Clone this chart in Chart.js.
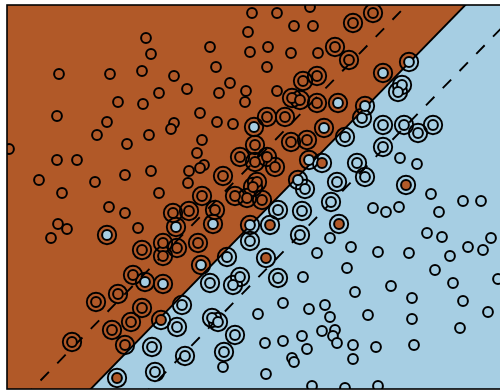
<!DOCTYPE html>
<html>
<head>
<meta charset="utf-8">
<script src="https://cdn.jsdelivr.net/npm/chart.js@4.4.1/dist/chart.umd.min.js"></script>
<style>
  html, body { margin: 0; padding: 0; background: #fff; overflow: hidden; }
  #wrap { width: 500px; height: 390px; overflow: hidden; }
  #wrap canvas { display: block; }
</style>
</head>
<body>
<div id="wrap"><canvas id="chart" width="512" height="390"></canvas></div>
<script>
// Two-class sample with a linear SVM: decision boundary, margins and support vectors.

// class 1 (brown), ordinary samples
const brownPoints = [
  [14.6,35.1],[15.1,33.5],[5.9,31.5],[11.0,31.5],[14.2,31.8],[17.4,31.3],[18.7,30.0],[15.9,29.6],
  [11.8,28.7],[14.3,28.5],[21.0,34.2],[21.6,32.2],[23.0,30.6],[21.9,29.6],[24.6,29.8],[24.5,28.7],
  [24.8,35.7],[25.2,37.6],[5.7,27.3],[10.7,26.7],[9.7,25.4],[12.7,24.5],[14.9,25.4],[17.4,26.6],
  [17.1,26.0],[20.0,27.6],[21.7,26.7],[23.3,26.5],[20.2,24.9],[19.7,23.6],[20.4,22.4],[20.0,22.1],
  [18.9,21.8],[18.8,20.6],[0.9,24.0],[5.7,22.9],[7.7,22.9],[3.9,20.9],[9.5,20.7],[12.5,21.4],
  [15.1,21.8],[6.2,19.6],[15.9,19.6],[25.0,33.7],[27.7,37.6],[31.0,38.2],[29.4,36.3],[31.3,36.3],
  [26.8,34.2],[29.1,33.6],[31.8,33.6],[26.7,32.2],[27.7,29.8],[10.9,18.2],[12.5,17.6],[5.8,16.5],
  [6.7,16.0],[5.1,15.1],[13.8,16.1]
];

// class 0 (light blue), ordinary samples
const bluePoints = [
  [40.0,23.1],[41.7,22.5],[33.0,15.1],[31.7,13.6],[35.1,14.2],[34.7,12.1],[30.3,11.2],[37.3,18.1],
  [38.6,17.7],[39.9,18.2],[43.9,17.7],[46.3,18.8],[48.1,18.8],[43.1,19.5],[37.8,13.7],[40.9,13.6],
  [42.7,15.6],[44.2,15.2],[45.0,13.3],[46.8,14.2],[48.3,13.9],[49.1,15.1],[49.8,11.0],[43.5,11.9],
  [45.3,10.6],[39.1,10.3],[41.2,9.1],[35.5,9.7],[46.3,8.8],[48.8,7.7],[46.0,6.1],[41.2,7.0],
  [36.8,7.4],[32.5,8.4],[33.0,7.2],[30.9,8.0],[28.3,8.6],[25.8,7.5],[32.2,5.8],[33.5,5.9],
  [33.3,5.3],[33.7,4.6],[30.2,5.3],[30.7,4.0],[28.3,4.8],[26.5,4.6],[29.2,3.1],[29.4,2.7],
  [35.3,4.4],[37.6,4.2],[41.4,4.4],[35.3,3.0],[26.6,1.5],[31.2,0.3],[34.5,0.1],[37.8,0.3],
  [22.3,2.2]
];

// support vectors of class 1
const brownSupport = [
  [37.3,37.6],[35.3,36.6],[33.5,34.2],[34.9,32.9],[31.7,31.3],[30.3,30.8],[29.2,29.1],[30.0,28.9],
  [31.7,28.6],[26.7,27.2],[28.5,27.2],[29.1,24.7],[30.7,24.9],[25.5,24.4],[24.0,23.2],[25.5,22.7],
  [26.7,23.2],[27.5,22.2],[25.7,20.7],[25.3,20.2],[24.7,19.1],[26.2,18.9],[22.3,21.3],[20.2,19.3],
  [23.5,19.3],[17.3,17.6],[18.9,17.8],[21.5,17.9],[16.3,14.6],[17.7,14.1],[16.3,13.3],[14.2,13.9],
  [19.8,14.6],[13.3,11.4],[11.8,9.5],[9.6,8.7],[14.2,8.1],[13.1,6.7],[11.2,5.9],[12.5,4.4],
  [7.2,4.7],[32.2,22.6],[40.6,20.4],[27.0,16.4],[33.9,16.5],[26.6,13.1],[16.1,6.9],[11.7,1.1]
];

// support vectors of class 0
const blueSupport = [
  [38.3,31.6],[33.8,28.6],[25.4,26.2],[32.4,26.1],[30.9,22.9],[10.7,15.4],[17.6,16.2],[21.3,16.5],
  [25.0,16.4],[20.1,12.4],[14.5,10.7],[16.3,10.5],[40.9,32.7],[40.2,30.4],[39.8,29.7],[36.5,28.3],
  [36.2,27.1],[34.5,25.2],[38.3,26.4],[40.4,26.4],[41.8,25.6],[43.3,26.4],[38.3,24.2],[29.8,20.9],
  [30.5,20.0],[35.7,22.6],[36.5,21.2],[33.7,20.7],[27.8,17.9],[30.2,17.8],[33.1,18.7],[30.0,15.4],
  [25.0,14.8],[22.7,13.2],[27.8,11.1],[21.0,10.6],[23.3,10.4],[24.0,11.2],[18.2,8.4],[21.2,7.1],
  [21.8,6.7],[17.7,6.2],[23.5,5.4],[15.2,4.2],[18.5,3.3],[22.4,3.7],[15.5,1.7]
];

// separating line y = slope * x + intercept, margins shifted by +/- margin
const slope = 1.025;
const intercept = -9.3;
const margin = 6.0;
const xLimits = [0.7, 50.7];
const yLimits = [0, 38.4];

const BROWN = '#b15928';
const BLUE = '#a6cee3';

const toXY = pts => pts.map(([x, y]) => ({ x, y }));
const lineAt = c => xLimits.map(x => ({ x, y: slope * x + c }));

function marks(pts, color) {
  return {
    type: 'scatter',
    data: toXY(pts),
    pointRadius: 4.9,
    pointHoverRadius: 4.9,
    pointBackgroundColor: color,
    pointBorderColor: '#000',
    pointBorderWidth: 2,
    clip: 0
  };
}

function edge(c, dash) {
  return {
    type: 'line',
    data: lineAt(c),
    borderColor: '#000',
    borderWidth: 1.9,
    borderDash: dash,
    pointRadius: 0,
    fill: false
  };
}

const frame = {
  id: 'frame',
  afterDraw(chart) {
    const { ctx, chartArea: a } = chart;
    ctx.save();
    ctx.strokeStyle = '#000';
    ctx.lineWidth = 1.6;
    ctx.strokeRect(a.left, a.top, a.right - a.left, a.bottom - a.top);
    ctx.restore();
  }
};

new Chart(document.getElementById('chart'), {
  type: 'scatter',
  data: {
    datasets: [
      marks(brownPoints, BROWN),
      marks(bluePoints, BLUE),
      marks(brownSupport, BROWN),
      marks(blueSupport, BLUE),
      {
        type: 'scatter',
        data: toXY(brownSupport.concat(blueSupport)),
        pointRadius: 9.2,
        pointHoverRadius: 9.2,
        pointBackgroundColor: 'rgba(0,0,0,0)',
        pointBorderColor: '#000',
        pointBorderWidth: 1.9,
        clip: 0
      },
      edge(intercept + margin, [12, 12]),
      edge(intercept - margin, [12, 12]),
      {
        type: 'line',
        data: lineAt(intercept),
        borderColor: '#000',
        borderWidth: 1.9,
        pointRadius: 0,
        backgroundColor: BROWN,
        fill: 'end'
      },
      {
        type: 'line',
        data: lineAt(intercept),
        borderWidth: 0,
        pointRadius: 0,
        backgroundColor: BLUE,
        fill: 'start'
      }
    ]
  },
  options: {
    responsive: false,
    animation: false,
    layout: { autoPadding: false, padding: { left: 7, top: 5, right: 5, bottom: 1 } },
    scales: {
      x: { type: 'linear', display: false, min: xLimits[0], max: xLimits[1] },
      y: { type: 'linear', display: false, min: yLimits[0], max: yLimits[1] }
    },
    plugins: {
      legend: { display: false },
      tooltip: { enabled: false }
    }
  },
  plugins: [frame]
});
</script>
</body>
</html>
